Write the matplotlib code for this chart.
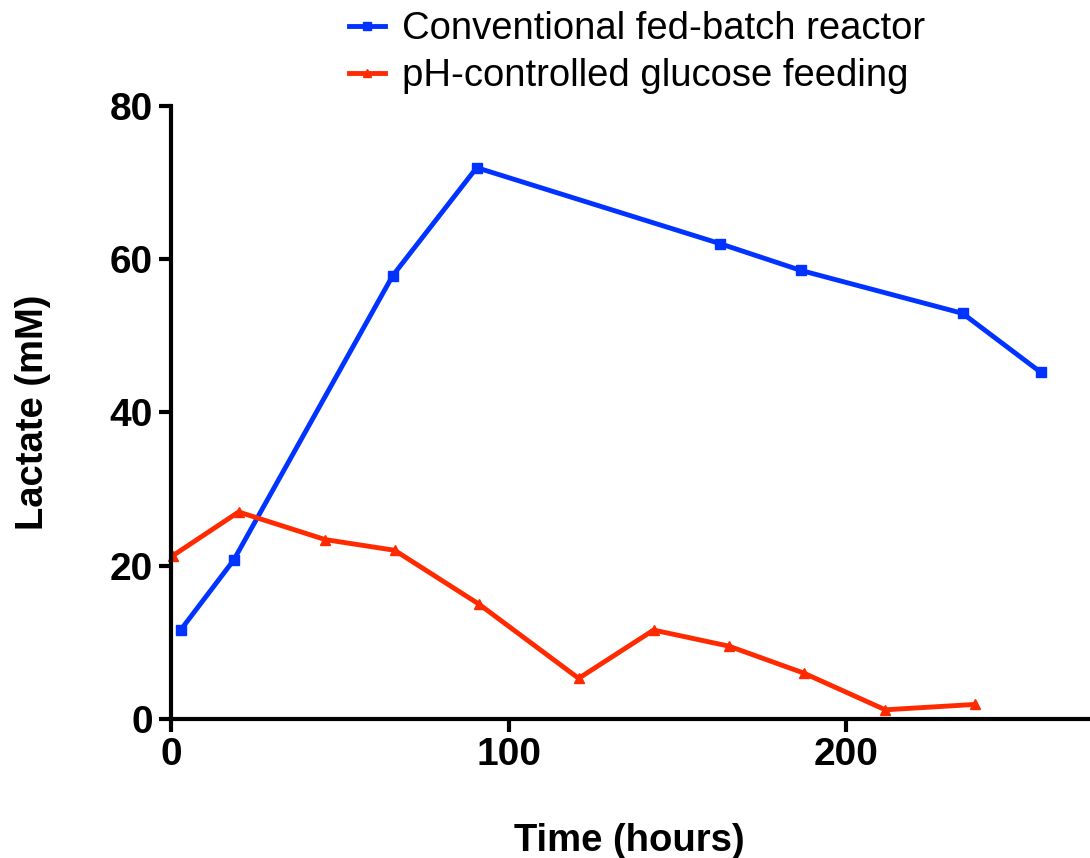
import matplotlib
matplotlib.use('Agg')
import matplotlib.pyplot as plt

plt.rcParams['font.family'] = ['Liberation Sans', 'DejaVu Sans']

# Datos
tiempo_convencional = [2.8, 18.5, 65.6, 90.5, 162.5, 186.5, 234.4, 257.6]
lactato_convencional = [11.6, 20.7, 57.8, 71.9, 62.0, 58.5, 52.9, 45.2]

tiempo_ph = [0.5, 20.0, 45.6, 66.2, 91.1, 120.7, 142.9, 165.2, 187.3, 211.5, 238.0]
lactato_ph = [21.3, 27.0, 23.4, 22.0, 15.0, 5.3, 11.6, 9.5, 6.0, 1.2, 1.9]

etiquetas = ['Conventional fed-batch reactor', 'pH-controlled glucose feeding']
azul = '#0033FF'
rojo = '#FF2A00'

fig = plt.figure(figsize=(10.9, 8.58), dpi=100)
ax = fig.add_axes([0.157, 0.162, 0.841, 0.715])

ax.plot(tiempo_convencional, lactato_convencional, color=azul, lw=3.5,
        marker='s', markersize=7.5, label=etiquetas[0], clip_on=False)
ax.plot(tiempo_ph, lactato_ph, color=rojo, lw=3.5,
        marker='^', markersize=7.5, label=etiquetas[1], clip_on=False)

ax.set_xlim(0, 271.5)
ax.set_ylim(0, 80)
ax.set_xticks([0, 100, 200])
ax.set_yticks([0, 20, 40, 60, 80])

for lado in ['top', 'right']:
    ax.spines[lado].set_visible(False)
for lado in ['left', 'bottom']:
    ax.spines[lado].set_linewidth(3)

ax.tick_params(width=3, length=9, labelsize=28, pad=4)
for t in ax.get_xticklabels() + ax.get_yticklabels():
    t.set_fontweight('bold')

ax.set_xlabel('Time (hours)', fontsize=27.5, fontweight='bold', labelpad=36)
ax.set_ylabel('Lactate (mM)', fontsize=27.5, fontweight='bold', labelpad=42)

fig.legend(loc='upper left', bbox_to_anchor=(0.306, 1.005), frameon=False,
           fontsize=27.5, handlelength=0.95, handletextpad=0.45, labelspacing=0.3,
           borderaxespad=0, markerscale=0.8)

fig.savefig('out.png', dpi=100)
